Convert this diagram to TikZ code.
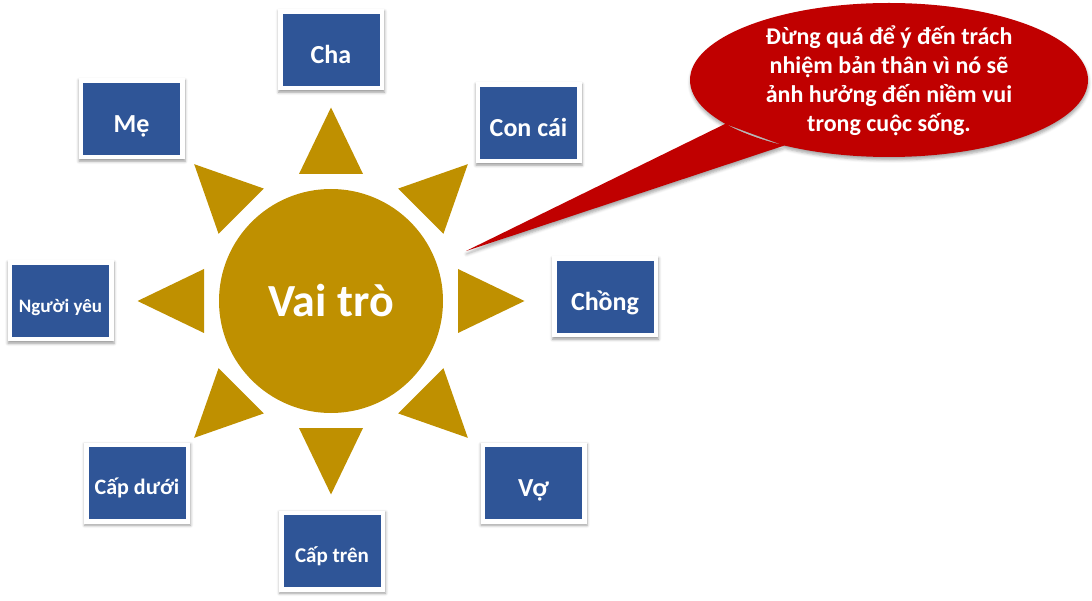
\documentclass[tikz,border=0pt]{standalone}
\usepackage{fontspec}
\setmainfont{Carlito}
\usetikzlibrary{shapes.geometric,shadows.blur}
\definecolor{boxblue}{HTML}{2F5597}
\definecolor{sungold}{HTML}{BF9000}
\definecolor{callred}{HTML}{C00000}
\begin{document}
\begin{tikzpicture}[x=1pt,y=-1pt,
  softshadow/.style={blur shadow={shadow xshift=0.5pt, shadow yshift=-1.8pt, shadow blur radius=2.8pt, shadow opacity=40}},
  rolebox/.style={rectangle, draw=none, fill=white,
    minimum width=106pt, minimum height=81pt, inner sep=0pt, text=white,
    path picture={\fill[boxblue] ([shift={(4.5pt,4.5pt)}]path picture bounding box.south west)
      rectangle ([shift={(-4.5pt,-4.5pt)}]path picture bounding box.north east);},
    font=\bfseries\fontsize{26}{30}\selectfont, text height=27pt, text depth=0pt, softshadow},
  smallbox/.style={rolebox, text height=23pt},
  ray/.style={fill=sungold, draw=none},
  sunstyle/.style={circle, fill=sungold, minimum size=224pt, inner sep=0pt, text=white,
    font=\bfseries\fontsize{46}{50}\selectfont},
  calloutshape/.style={ellipse, minimum width=398pt, minimum height=154pt, inner sep=0pt, draw=none},
  callfill/.style={fill=callred, blur shadow={shadow xshift=0.5pt, shadow yshift=-3pt, shadow blur radius=3pt, shadow opacity=35}},
  calltextstyle/.style={text=white, align=center, font=\bfseries\fontsize{24}{29}\selectfont}]
\useasboundingbox (0,0) rectangle (1092,601);
\coordinate (c) at (331,301);
\foreach \a in {0,45,...,315}
  \fill[ray, shift={(c)}, rotate=\a] (193.5,0) -- (127,32) -- (127,-32) -- cycle;
\node[sunstyle] (sun) at (c) {Vai trò};

\node[rolebox] (cha) at (331,50) {Cha};
\node[rolebox] (me) at (131.5,119) {Mẹ};
\node[rolebox] (concai) at (528.5,123) {Con cái};
\node[smallbox, font=\bfseries\fontsize{19}{22}\selectfont] (nguoiyeu) at (60.5,301) {Người yêu};
\node[rolebox] (chong) at (605,297) {Chồng};
\node[smallbox, font=\bfseries\fontsize{22}{26}\selectfont] (capduoi) at (137,483) {Cấp dưới};
\node[smallbox, font=\bfseries\fontsize{21}{25}\selectfont] (captren) at (332,551) {Cấp trên};
\node[rolebox] (vo) at (533.5,483) {Vợ};

\node[calloutshape] (callout) at (889,80) {};
\coordinate (tip) at (466,251);
\fill[callfill] (callout.center) ellipse [x radius=199, y radius=77]
  (callout.195) -- (tip) -- (callout.212) -- cycle;
\node[calltextstyle] (calltext) at (889,81) {Đừng quá để ý đến trách\\nhiệm bản thân vì nó sẽ\\ảnh hưởng đến niềm vui\\trong cuộc sống.};
\end{tikzpicture}
\end{document}
